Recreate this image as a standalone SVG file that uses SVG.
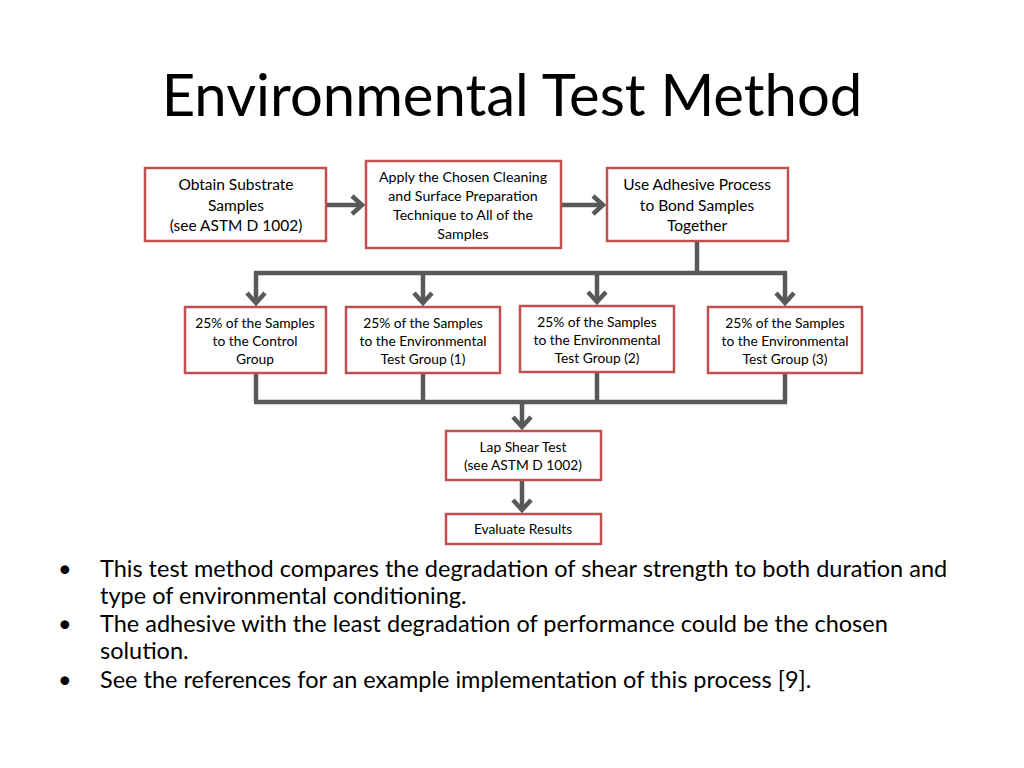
<svg xmlns="http://www.w3.org/2000/svg" width="1024" height="768" viewBox="0 0 1024 768">
<style>
text{font-family:Lato,"Open Sans","Liberation Sans",sans-serif;fill:#000}
.b rect{fill:#fff;stroke:#c0504d;stroke-width:2.5}
.b text{text-anchor:middle}
.c line,.c polyline{stroke:#595959;stroke-width:4.5;fill:none}
.t{font-size:15.5px}.s{font-size:13.8px}.a{font-size:14.2px}
.bl{font-size:23.5px}
</style>
<rect width="1024" height="768" fill="#fff"/>
<text x="512" y="116" font-size="58" text-anchor="middle">Environmental Test Method</text>
<g class="c">
<line x1="326" y1="205" x2="362" y2="205"/><polyline points="352,196 362,205 352,214"/>
<line x1="561" y1="205" x2="603" y2="205"/><polyline points="593,196 603,205 593,214"/>
<line x1="697" y1="241" x2="697" y2="273"/>
<line x1="254" y1="273" x2="787" y2="273"/>
<line x1="256" y1="273" x2="256" y2="303"/><polyline points="247,293 256,303 265,293"/>
<line x1="423" y1="273" x2="423" y2="303"/><polyline points="414,293 423,303 432,293"/>
<line x1="597" y1="273" x2="597" y2="302"/><polyline points="588,292 597,302 606,292"/>
<line x1="785" y1="273" x2="785" y2="303"/><polyline points="776,293 785,303 794,293"/>
<line x1="256" y1="373" x2="256" y2="402"/>
<line x1="423" y1="373" x2="423" y2="402"/>
<line x1="597" y1="372" x2="597" y2="402"/>
<line x1="785" y1="373" x2="785" y2="402"/>
<line x1="254" y1="402" x2="787" y2="402"/>
<line x1="522" y1="402" x2="522" y2="427"/><polyline points="513,417 522,427 531,417"/>
<line x1="522" y1="480" x2="522" y2="510"/><polyline points="513,500 522,510 531,500"/>
</g>
<g id="n1" class="b"><rect x="145" y="168" width="181" height="73"/><text class="t" x="236" y="190">Obtain Substrate</text><text class="t" x="236" y="211">Samples</text><text class="t" x="236" y="231">(see ASTM D 1002)</text></g>
<g id="n2" class="b"><rect x="366" y="161" width="195" height="87"/><text class="a" x="463" y="182">Apply the Chosen Cleaning</text><text class="a" x="463" y="201">and Surface Preparation</text><text class="a" x="463" y="220">Technique to All of the</text><text class="a" x="463" y="239">Samples</text></g>
<g id="n3" class="b"><rect x="607" y="168" width="181" height="73"/><text class="t" x="697" y="190">Use Adhesive Process</text><text class="t" x="697" y="211">to Bond Samples</text><text class="t" x="697" y="231">Together</text></g>
<g id="n4" class="b"><rect x="185" y="307" width="141" height="66"/><text class="s" x="255" y="328">25% of the Samples</text><text class="s" x="255" y="346">to the Control</text><text class="s" x="255" y="364">Group</text></g>
<g id="n5" class="b"><rect x="346" y="307" width="154" height="66"/><text class="s" x="423" y="328">25% of the Samples</text><text class="s" x="423" y="346">to the Environmental</text><text class="s" x="423" y="364">Test Group (1)</text></g>
<g id="n6" class="b"><rect x="520" y="306" width="154" height="66"/><text class="s" x="597" y="327">25% of the Samples</text><text class="s" x="597" y="345">to the Environmental</text><text class="s" x="597" y="363">Test Group (2)</text></g>
<g id="n7" class="b"><rect x="708" y="307" width="154" height="66"/><text class="s" x="785" y="328">25% of the Samples</text><text class="s" x="785" y="346">to the Environmental</text><text class="s" x="785" y="364">Test Group (3)</text></g>
<g id="n8" class="b"><rect x="446" y="431" width="155" height="49"/><text class="s" x="523" y="452">Lap Shear Test</text><text class="s" x="523" y="470">(see ASTM D 1002)</text></g>
<g id="n9" class="b"><rect x="446" y="514" width="155" height="30"/><text class="s" x="523" y="534">Evaluate Results</text></g>
<g class="bl">
<text x="58" y="577">•</text><text x="100" y="577">This test method compares the degradation of shear strength to both duration and</text>
<text x="100" y="604">type of environmental conditioning.</text>
<text x="58" y="632">•</text><text x="100" y="632">The adhesive with the least degradation of performance could be the chosen</text>
<text x="100" y="659">solution.</text>
<text x="58" y="688">•</text><text x="100" y="688">See the references for an example implementation of this process [9].</text>
</g>
</svg>
